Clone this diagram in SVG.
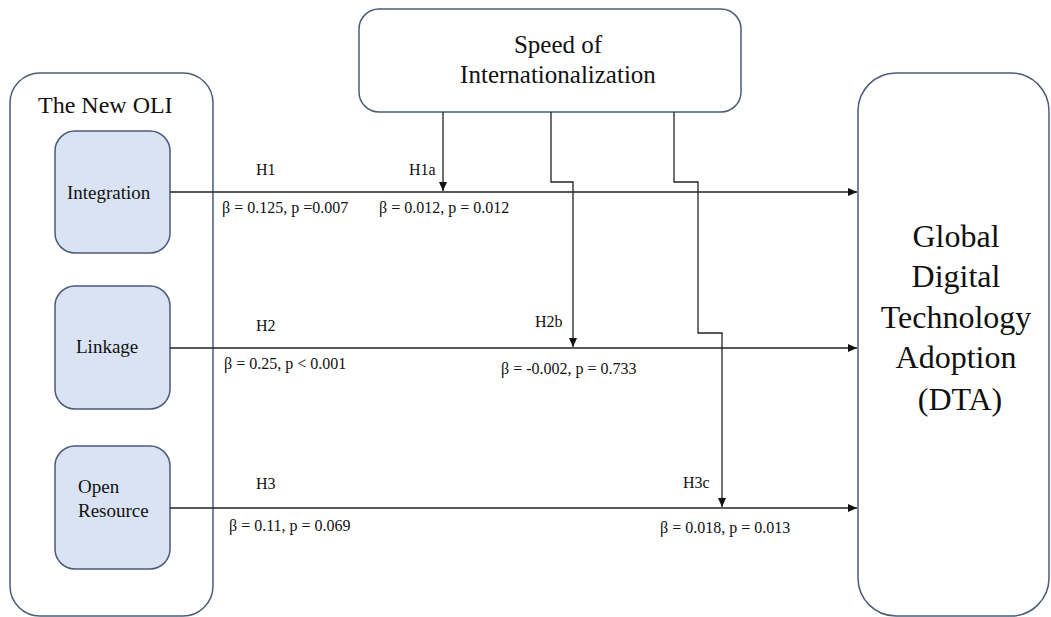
<svg xmlns="http://www.w3.org/2000/svg" width="1051" height="617" viewBox="0 0 1051 617">
<style>
.box{fill:#fff;stroke:#4b5b78;stroke-width:1.5}
.inner{fill:#dae3f3;stroke:#4b5b78;stroke-width:1.5}
text{font-family:'Liberation Serif',Tinos,'Times New Roman','DejaVu Serif',serif;fill:#111}
.lbl{font-size:16px}
.con{fill:none;stroke:#222;stroke-width:1.3}
</style>
<defs>
<marker id="ah" markerWidth="10" markerHeight="10" refX="9" refY="5" orient="auto" markerUnits="userSpaceOnUse">
<path d="M0,1 L9,5 L0,9 Z" fill="#111"/>
</marker>
</defs>
<rect width="1051" height="617" fill="#fff"/>
<g id="oli">
<rect class="box" x="10" y="73" width="203" height="543" rx="30"/>
<text x="38" y="113" font-size="24" font-family="Liberation Serif, serif">The New OLI</text>
</g>
<g id="integration">
<rect class="inner" x="55" y="131" width="115" height="122" rx="20"/>
<text x="67" y="199" font-size="19">Integration</text>
</g>
<g id="linkage">
<rect class="inner" x="55" y="286" width="115" height="123" rx="20"/>
<text x="76" y="353" font-size="19">Linkage</text>
</g>
<g id="openresource">
<rect class="inner" x="55" y="446" width="115" height="123" rx="20"/>
<text x="78" y="493" font-size="19">Open</text>
<text x="78" y="517" font-size="19">Resource</text>
</g>
<g id="speed">
<rect class="box" x="359" y="9" width="382" height="103" rx="20"/>
<text x="558" y="53" font-size="25" text-anchor="middle">Speed of</text>
<text x="558" y="83" font-size="25" text-anchor="middle">Internationalization</text>
</g>
<g id="dta">
<rect class="box" x="858" y="73" width="191" height="543" rx="38"/>
<text font-size="32" text-anchor="middle">
<tspan x="960" y="247">Global</tspan>
<tspan x="960" y="287">Digital</tspan>
<tspan x="960" y="328">Technology</tspan>
<tspan x="960" y="368">Adoption</tspan>
<tspan x="960" y="410">(DTA)</tspan>
</text>
</g>
<g id="connectors">
<path class="con" d="M170,192 H857" marker-end="url(#ah)"/>
<path class="con" d="M170,348 H857" marker-end="url(#ah)"/>
<path class="con" d="M170,508 H857" marker-end="url(#ah)"/>
<path class="con" d="M443,112 V191" marker-end="url(#ah)"/>
<path class="con" d="M551,112 V182 H573 V347" marker-end="url(#ah)"/>
<path class="con" d="M674,112 V182 H698 V333 H722 V507" marker-end="url(#ah)"/>
</g>
<g id="labels">
<text class="lbl" x="256" y="175">H1</text>
<text class="lbl" x="409" y="175">H1a</text>
<text class="lbl" x="222" y="213">β = 0.125, p =0.007</text>
<text class="lbl" x="379" y="213">β = 0.012, p = 0.012</text>
<text class="lbl" x="256" y="331">H2</text>
<text class="lbl" x="535" y="327">H2b</text>
<text class="lbl" x="224" y="369">β = 0.25, p &lt; 0.001</text>
<text class="lbl" x="501" y="374">β = -0.002, p = 0.733</text>
<text class="lbl" x="256" y="489">H3</text>
<text class="lbl" x="683" y="488">H3c</text>
<text class="lbl" x="229" y="531">β = 0.11, p = 0.069</text>
<text class="lbl" x="660" y="533">β = 0.018, p = 0.013</text>
</g>
</svg>
